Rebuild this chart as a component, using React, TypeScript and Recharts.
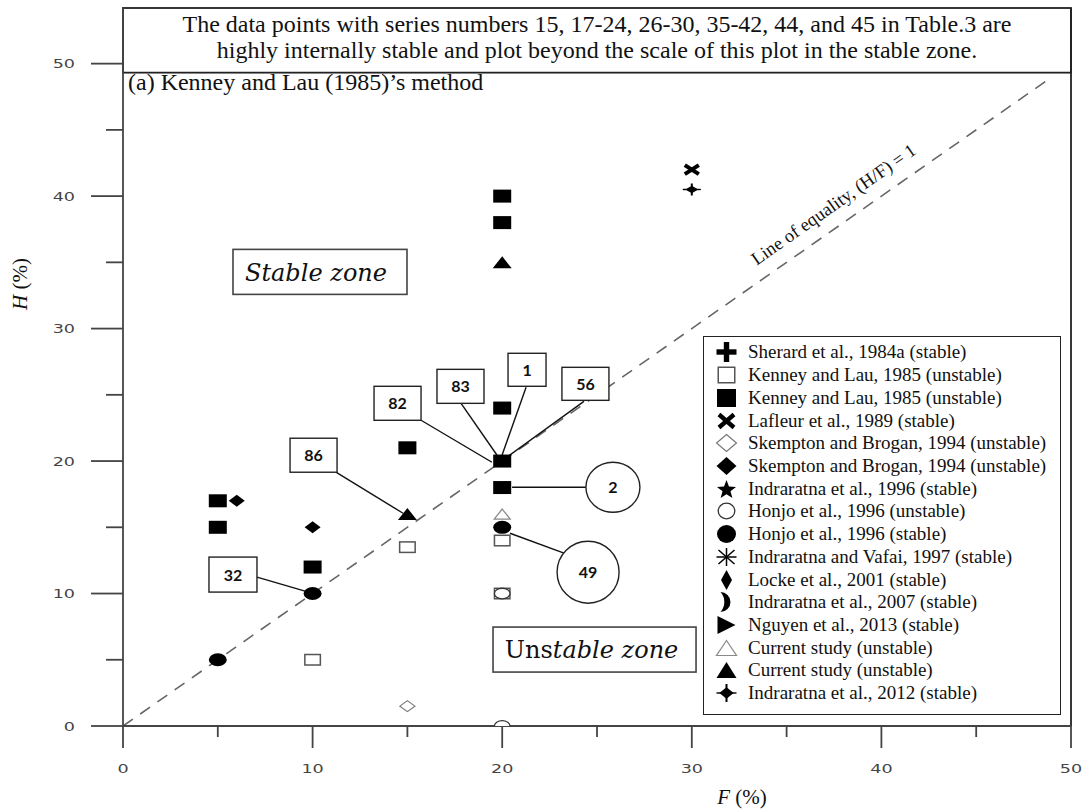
import React from 'react';
import {
  ScatterChart,
  Scatter,
  XAxis,
  YAxis,
  ReferenceLine,
  ReferenceArea,
  ReferenceDot,
  Legend,
} from 'recharts';

type Pt = { f: number; h: number };

// F (%) and H (%) of each sample
const sherard1984a: Pt[] = [];
const kenneyLauOpen: Pt[] = [
  { f: 10, h: 5 },
  { f: 15, h: 13.5 },
  { f: 20, h: 14 },
  { f: 20, h: 10 },
];
const kenneyLauFilled: Pt[] = [
  { f: 5, h: 17 },
  { f: 5, h: 15 },
  { f: 10, h: 12 },
  { f: 15, h: 21 },
  { f: 20, h: 40 },
  { f: 20, h: 38 },
  { f: 20, h: 24 },
  { f: 20, h: 20 },
  { f: 20, h: 18 },
];
const lafleur1989: Pt[] = [{ f: 30, h: 42 }];
const skemptonOpen: Pt[] = [{ f: 15, h: 1.5 }];
const skemptonFilled: Pt[] = [
  { f: 6, h: 17 },
  { f: 10, h: 15 },
];
const indraratna1996: Pt[] = [];
const honjoOpen: Pt[] = [
  { f: 20, h: 10 },
  { f: 20, h: 0 },
];
const honjoFilled: Pt[] = [
  { f: 5, h: 5 },
  { f: 10, h: 10 },
  { f: 20, h: 15 },
];
const indraratnaVafai1997: Pt[] = [];
const locke2001: Pt[] = [];
const indraratna2007: Pt[] = [];
const nguyen2013: Pt[] = [];
const currentOpen: Pt[] = [{ f: 20, h: 16 }];
const currentFilled: Pt[] = [
  { f: 20, h: 35 },
  { f: 15, h: 16 },
];
const indraratna2012: Pt[] = [{ f: 30, h: 40.5 }];

const xTicks = [0, 5, 10, 15, 20, 25, 30, 35, 40, 45, 50];
const yTicks = [0, 5, 10, 15, 20, 25, 30, 35, 40, 45, 50];

const bannerLines = [
  'The data points with series numbers 15, 17-24, 26-30, 35-42, 44, and 45 in Table.3 are',
  'highly internally stable and plot beyond the scale of this plot in the stable zone.',
];

const series = [
  { name: 'Sherard et al., 1984a (stable)', kind: 'plus', data: sherard1984a },
  { name: 'Kenney and Lau, 1985 (unstable)', kind: 'squareOpen', data: kenneyLauOpen },
  { name: 'Kenney and Lau, 1985 (unstable)', kind: 'square', data: kenneyLauFilled },
  { name: 'Lafleur et al., 1989 (stable)', kind: 'cross', data: lafleur1989 },
  { name: 'Skempton and Brogan, 1994 (unstable)', kind: 'diamondOpen', data: skemptonOpen },
  { name: 'Skempton and Brogan, 1994 (unstable)', kind: 'diamond', data: skemptonFilled },
  { name: 'Indraratna et al., 1996 (stable)', kind: 'star', data: indraratna1996 },
  { name: 'Honjo et al., 1996 (unstable)', kind: 'circleOpen', data: honjoOpen },
  { name: 'Honjo et al., 1996 (stable)', kind: 'circle', data: honjoFilled },
  { name: 'Indraratna and Vafai, 1997 (stable)', kind: 'asterisk', data: indraratnaVafai1997 },
  { name: 'Locke et al., 2001 (stable)', kind: 'thinDiamond', data: locke2001 },
  { name: 'Indraratna et al., 2007 (stable)', kind: 'crescent', data: indraratna2007 },
  { name: 'Nguyen et al., 2013 (stable)', kind: 'triRight', data: nguyen2013 },
  { name: 'Current study (unstable)', kind: 'triOpen', data: currentOpen },
  { name: 'Current study (unstable)', kind: 'tri', data: currentFilled },
  { name: 'Indraratna et al., 2012 (stable)', kind: 'diamondCross', data: indraratna2012 },
];

// marker sizes on the plot [w, h] and in the legend
const plotSize: Record<string, number[]> = {
  square: [18, 13],
  squareOpen: [17, 12],
  circle: [18, 13],
  circleOpen: [17, 12],
  diamond: [16, 12],
  diamondOpen: [15, 11],
  tri: [19, 12],
  triOpen: [16, 10],
  cross: [17, 12],
  diamondCross: [18, 12],
  plus: [16, 14],
  star: [16, 14],
  asterisk: [16, 14],
  thinDiamond: [9, 14],
  crescent: [10, 14],
  triRight: [16, 14],
};
const legendSize: Record<string, number[]> = {
  square: [19, 18],
  squareOpen: [18, 17],
  circle: [19, 18],
  circleOpen: [18, 17],
  diamond: [20, 18],
  diamondOpen: [20, 17],
  tri: [20, 16],
  triOpen: [20, 15],
  cross: [18, 16],
  diamondCross: [20, 18],
  plus: [20, 20],
  star: [20, 19],
  asterisk: [20, 18],
  thinDiamond: [11, 20],
  crescent: [12, 20],
  triRight: [18, 18],
};

// annotation placement, in data units
const callouts = [
  { text: '86', at: [10.05, 20.44], from: [11.23, 19.16], to: [14.77, 16.06], w: 47, hgt: 34 },
  { text: '32', at: [5.8, 11.43], from: [7.07, 11.24], to: [9.6, 10.18], w: 48, hgt: 35 },
  { text: '82', at: [14.48, 24.36], from: [15.72, 23.08], to: [19.46, 19.91], w: 47, hgt: 34 },
  { text: '83', at: [17.8, 25.64], from: [17.83, 24.36], to: [19.73, 20.44], w: 47, hgt: 34 },
  { text: '1', at: [21.31, 26.89], from: [21.26, 25.57], to: [19.99, 20.44], w: 38, hgt: 33 },
  { text: '56', at: [24.39, 25.83], from: [24.31, 24.51], to: [20.25, 20.29], w: 47, hgt: 33 },
];
const circleCallouts = [
  { text: '2', at: [25.84, 18.02], from: [20.52, 18.02], to: [24.42, 18.02], rx: 27, ry: 25 },
  { text: '49', at: [24.53, 11.61], from: [20.41, 14.55], to: [23.26, 13.05], rx: 31, ry: 31 },
];

const SERIF = '"Liberation Serif", "Times New Roman", serif';

const starPoints = (cx: number, cy: number, R: number) =>
  Array.from({ length: 10 }, (_, i) => {
    const r = i % 2 ? R * 0.42 : R;
    const a = -Math.PI / 2 + (i * Math.PI) / 5;
    return `${cx + r * Math.cos(a)},${cy + r * Math.sin(a)}`;
  }).join(' ');

const Marker = ({ kind, cx, cy, w, h }: { kind: string; cx: number; cy: number; w: number; h: number }) => {
  const x0 = cx - w / 2;
  const x1 = cx + w / 2;
  const y0 = cy - h / 2;
  const y1 = cy + h / 2;
  switch (kind) {
    case 'square':
      return <rect x={x0} y={y0} width={w} height={h} fill="#000" />;
    case 'squareOpen':
      return <rect x={x0 + 0.75} y={y0 + 0.75} width={w - 1.5} height={h - 1.5} fill="#fff" stroke="#555" strokeWidth={1.5} />;
    case 'circle':
      return <ellipse cx={cx} cy={cy} rx={w / 2} ry={h / 2} fill="#000" />;
    case 'circleOpen':
      return <ellipse cx={cx} cy={cy} rx={w / 2 - 0.7} ry={h / 2 - 0.7} fill="#fff" stroke="#333" strokeWidth={1.3} />;
    case 'diamond':
      return <polygon points={`${cx},${y0} ${x1},${cy} ${cx},${y1} ${x0},${cy}`} fill="#000" />;
    case 'diamondOpen':
      return <polygon points={`${cx},${y0} ${x1},${cy} ${cx},${y1} ${x0},${cy}`} fill="#fff" stroke="#777" strokeWidth={1.2} />;
    case 'thinDiamond':
      return <polygon points={`${cx},${y0} ${x1},${cy} ${cx},${y1} ${x0},${cy}`} fill="#000" />;
    case 'tri':
      return <polygon points={`${cx},${y0} ${x1},${y1} ${x0},${y1}`} fill="#000" />;
    case 'triOpen':
      return <polygon points={`${cx},${y0} ${x1},${y1} ${x0},${y1}`} fill="#fff" stroke="#888" strokeWidth={1.2} />;
    case 'triRight':
      return <polygon points={`${x0},${y0} ${x1},${cy} ${x0},${y1}`} fill="#000" />;
    case 'plus': {
      const t = w * 0.27;
      return (
        <g fill="#000">
          <rect x={cx - t / 2} y={y0} width={t} height={h} />
          <rect x={x0} y={cy - t / 2} width={w} height={t} />
        </g>
      );
    }
    case 'cross':
      return (
        <g stroke="#000" strokeWidth={w * 0.24}>
          <line x1={x0 + 1.5} y1={y0 + 1.5} x2={x1 - 1.5} y2={y1 - 1.5} />
          <line x1={x1 - 1.5} y1={y0 + 1.5} x2={x0 + 1.5} y2={y1 - 1.5} />
        </g>
      );
    case 'star':
      return <polygon points={starPoints(cx, cy + 1, w / 2)} fill="#000" />;
    case 'asterisk':
      return (
        <g stroke="#000" strokeWidth={1.5}>
          <line x1={cx} y1={y0} x2={cx} y2={y1} />
          <line x1={x0} y1={cy} x2={x1} y2={cy} />
          <line x1={x0 + 2} y1={y0 + 2} x2={x1 - 2} y2={y1 - 2} />
          <line x1={x1 - 2} y1={y0 + 2} x2={x0 + 2} y2={y1 - 2} />
        </g>
      );
    case 'crescent':
      return (
        <path
          d={`M${x0},${y0} A${h / 2},${h / 2} 0 0 1 ${x0},${y1} A${h * 0.75},${h * 0.75} 0 0 0 ${x0},${y0} Z`}
          fill="#000"
        />
      );
    case 'diamondCross':
      return (
        <g>
          <polygon
            points={`${cx},${cy - h * 0.32} ${cx + w * 0.36},${cy} ${cx},${cy + h * 0.32} ${cx - w * 0.36},${cy}`}
            fill="#000"
          />
          <line x1={cx} y1={y0} x2={cx} y2={y1} stroke="#000" strokeWidth={2} />
          <line x1={x0} y1={cy} x2={x1} y2={cy} stroke="#000" strokeWidth={1.4} />
        </g>
      );
    default:
      return null;
  }
};

const XTick = (p: any) => {
  const { x, y, payload } = p;
  const major = payload.value % 10 === 0;
  return (
    <g>
      <line x1={x} y1={y} x2={x} y2={y + (major ? 22 : 11)} stroke="#444" strokeWidth={1.8} />
      {major && (
        <text
          transform={`translate(${x},${y + 47}) scale(1.35,1)`}
          textAnchor="middle"
          fontFamily="DejaVu Sans"
          fontSize={13}
          fill="#444"
        >
          {payload.value}
        </text>
      )}
    </g>
  );
};

const YTick = (p: any) => {
  const { x, y, payload } = p;
  const major = payload.value % 10 === 0;
  return (
    <g>
      <line x1={x} y1={y} x2={x - (major ? 32 : 17)} y2={y} stroke="#444" strokeWidth={1.8} />
      {major && (
        <text
          transform={`translate(${x - 48},${y + 4.7}) scale(1.35,1)`}
          textAnchor="end"
          fontFamily="DejaVu Sans"
          fontSize={13}
          fill="#444"
        >
          {payload.value}
        </text>
      )}
    </g>
  );
};

const Banner = (p: any) => {
  const { x, y, width, height } = p;
  const mid = x + width / 2;
  return (
    <g>
      <rect x={x} y={y} width={width} height={height} fill="#fff" stroke="#222" strokeWidth={1.8} />
      <text x={mid} y={y + 23.5} textAnchor="middle" fontFamily={SERIF} fontSize={24} fill="#111">
        {bannerLines[0]}
      </text>
      <text x={mid} y={y + 50} textAnchor="middle" fontFamily={SERIF} fontSize={24} fill="#111">
        {bannerLines[1]}
      </text>
      <text x={x + 5} y={y + height + 17} fontFamily={SERIF} fontSize={24} fill="#111">
        (a) Kenney and Lau (1985)’s method
      </text>
    </g>
  );
};

const renderLegend = () => (
  <div
    style={{
      width: 358,
      height: 379,
      boxSizing: 'border-box',
      border: '1.5px solid #222',
      background: '#fff',
      paddingTop: 4,
    }}
  >
    {series.map((s, i) => (
      <div key={i} style={{ display: 'flex', alignItems: 'center', height: 22.73 }}>
        <svg width={44} height={22} style={{ flex: 'none' }}>
          <Marker kind={s.kind} cx={22.5} cy={11} w={legendSize[s.kind][0]} h={legendSize[s.kind][1]} />
        </svg>
        <span style={{ fontFamily: SERIF, fontSize: 19, color: '#111', whiteSpace: 'nowrap', lineHeight: '22px' }}>
          {s.name}
        </span>
      </div>
    ))}
  </div>
);

export default function App() {
  return (
    <div
      style={{ position: 'absolute', left: 0, top: 0, width: 1086, height: 812, overflow: 'hidden', background: '#fff' }}
    >
      <ScatterChart width={1086} height={812} margin={{ top: 8, right: 15, bottom: 26, left: 23 }}>
        <XAxis
          type="number"
          dataKey="f"
          domain={[0, 50]}
          ticks={xTicks}
          interval={0}
          height={60}
          tickSize={0}
          tickMargin={0}
          tickLine={false}
          tick={<XTick />}
          axisLine={{ stroke: '#444', strokeWidth: 1.8 }}
          label={{
            content: () => (
              <text x={742} y={804} textAnchor="middle" fontFamily={SERIF} fontSize={21} fill="#111">
                <tspan fontStyle="italic">F</tspan> (%)
              </text>
            ),
          }}
        />
        <YAxis
          type="number"
          dataKey="h"
          domain={[0, 54.2]}
          ticks={yTicks}
          interval={0}
          width={100}
          tickSize={0}
          tickMargin={0}
          tickLine={false}
          tick={<YTick />}
          allowDataOverflow
          axisLine={{ stroke: '#444', strokeWidth: 1.8 }}
          label={{
            content: () => (
              <text
                x={27}
                y={284}
                transform="rotate(-90 27 284)"
                textAnchor="middle"
                fontFamily={SERIF}
                fontSize={21}
                fill="#111"
              >
                <tspan fontStyle="italic">H</tspan> (%)
              </text>
            ),
          }}
        />

        <ReferenceArea x1={0} x2={50} y1={49.32} y2={54.2} ifOverflow="visible" shape={<Banner />} />
        <ReferenceLine x={50} stroke="#222" strokeWidth={1.8} />

        <ReferenceLine
          segment={[
            { x: 0, y: 0 },
            { x: 49, y: 49 },
          ]}
          stroke="#666"
          strokeWidth={1.6}
          strokeDasharray="12 9"
          ifOverflow="visible"
        />
        <ReferenceDot
          x={37.66}
          y={38.99}
          r={0}
          ifOverflow="visible"
          shape={(p: any) => (
            <text
              x={p.cx}
              y={p.cy}
              transform={`rotate(-35 ${p.cx} ${p.cy})`}
              textAnchor="middle"
              fontFamily={SERIF}
              fontSize={18.5}
              fill="#111"
            >
              Line of equality, (H/F) = 1
            </text>
          )}
        />

        {[...callouts, ...circleCallouts].map((c) => (
          <ReferenceLine
            key={`l${c.text}`}
            segment={[
              { x: c.from[0], y: c.from[1] },
              { x: c.to[0], y: c.to[1] },
            ]}
            stroke="#111"
            strokeWidth={1.4}
            ifOverflow="visible"
          />
        ))}

        {series.map((s, i) => (
          <Scatter
            key={i}
            name={s.name}
            data={s.data}
            isAnimationActive={false}
            shape={(p: any) => (
              <Marker kind={s.kind} cx={p.cx} cy={p.cy} w={plotSize[s.kind][0]} h={plotSize[s.kind][1]} />
            )}
          />
        ))}

        {callouts.map((c) => (
          <ReferenceDot
            key={`b${c.text}`}
            x={c.at[0]}
            y={c.at[1]}
            r={0}
            ifOverflow="visible"
            shape={(p: any) => (
              <g>
                <rect
                  x={p.cx - c.w / 2}
                  y={p.cy - c.hgt / 2}
                  width={c.w}
                  height={c.hgt}
                  fill="#fff"
                  stroke="#222"
                  strokeWidth={1.4}
                />
                <text x={p.cx} y={p.cy + 6} textAnchor="middle" fontFamily="Lato" fontWeight="bold" fontSize={16} fill="#111">
                  {c.text}
                </text>
              </g>
            )}
          />
        ))}
        {circleCallouts.map((c) => (
          <ReferenceDot
            key={`c${c.text}`}
            x={c.at[0]}
            y={c.at[1]}
            r={0}
            ifOverflow="visible"
            shape={(p: any) => (
              <g>
                <ellipse cx={p.cx} cy={p.cy} rx={c.rx} ry={c.ry} fill="#fff" stroke="#222" strokeWidth={1.4} />
                <text x={p.cx} y={p.cy + 6} textAnchor="middle" fontFamily="Lato" fontWeight="bold" fontSize={16} fill="#111">
                  {c.text}
                </text>
              </g>
            )}
          />
        ))}

        <ReferenceDot
          x={10.39}
          y={34.28}
          r={0}
          ifOverflow="visible"
          shape={(p: any) => (
            <g>
              <rect x={p.cx - 87} y={p.cy - 22.5} width={174} height={45} fill="#fff" stroke="#444" strokeWidth={1.6} />
              <text x={p.cx - 4} y={p.cy + 9} textAnchor="middle" fontFamily="DejaVu Serif" fontStyle="italic" fontSize={24} fill="#111">
                Stable zone
              </text>
            </g>
          )}
        />
        <ReferenceDot
          x={24.87}
          y={5.77}
          r={0}
          ifOverflow="visible"
          shape={(p: any) => (
            <g>
              <rect x={p.cx - 101.5} y={p.cy - 22.5} width={203} height={45} fill="#fff" stroke="#444" strokeWidth={1.6} />
              <text x={p.cx - 3} y={p.cy + 8} textAnchor="middle" fontFamily="DejaVu Serif" fontSize={24} fill="#111">
                Uns<tspan fontStyle="italic">table zone</tspan>
              </text>
            </g>
          )}
        />

        <Legend
          content={renderLegend}
          layout="vertical"
          align="center"
          verticalAlign="middle"
          wrapperStyle={{ left: 703, top: 336, width: 358, height: 379 }}
        />
      </ScatterChart>
    </div>
  );
}
